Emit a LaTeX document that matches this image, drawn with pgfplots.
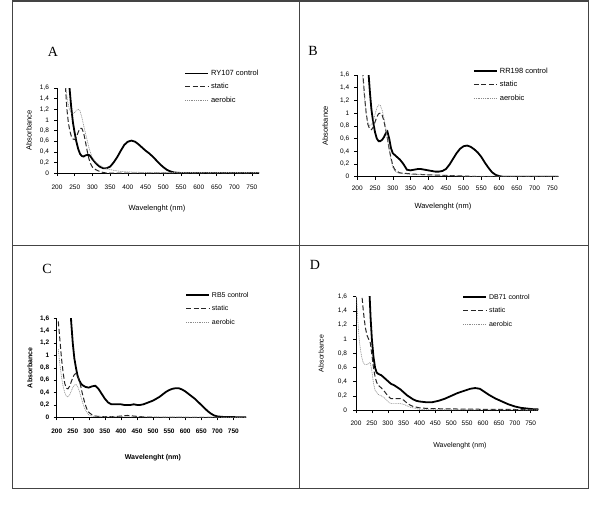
\documentclass[border=0pt]{standalone}
\usepackage{fontspec}
\setmainfont{Liberation Sans}
\newfontfamily\serifletter{Liberation Serif}
\usepackage{pgfplots}
\pgfplotsset{compat=1.18}

\definecolor{framegray}{HTML}{444444}
\definecolor{aerogray}{HTML}{8C8C8C}

\pgfplotsset{
  panel/.style={
    scale only axis, anchor=south west,
    axis x line*=bottom, axis y line*=left,
    xmin=200, ymin=0, ymax=1.6,
    xtick={200,250,300,350,400,450,500,550,600,650,700,750},
    ytick={0,0.2,0.4,0.6,0.8,1,1.2,1.4,1.6},
    tick align=outside, major tick length=3pt,
    tick style={black, line width=0.5pt},
    axis line style={black, line width=0.6pt},
    every tick label/.append style={font=\fontsize{6.5}{8}\selectfont},
    /pgf/number format/assume math mode=true,
    yticklabel style={/pgf/number format/use comma, /pgf/number format/fixed, /pgf/number format/precision=1},
    xticklabel style={/pgf/number format/1000 sep={}},
    ylabel={Absorbance}, xlabel={Wavelenght (nm)},
    label style={font=\fontsize{7.5}{9}\selectfont},
    legend cell align=left,
    legend style={draw=none, fill=none, anchor=north west, inner sep=0pt,
      font=\fontsize{7.5}{9}\selectfont, row sep=6.5pt, column sep=2pt,
      nodes={inner sep=0pt, text height=5.5pt, text depth=1.5pt}},
    legend image code/.code={\draw[##1] (0pt,0pt) -- (23pt,0pt);},
  },
  ctrl/.style={black, line width=1.8pt, no marks},
  stat/.style={black!85, line width=1pt, dash pattern=on 5pt off 2.5pt, no marks},
  aero/.style={aerogray, line width=0.6pt, dash pattern=on 1pt off 0.8pt, no marks},
}

\begin{document}
\begin{tikzpicture}
\useasboundingbox (0pt,0pt) rectangle (600pt,-508pt);

% frame of the four panels
\draw[framegray, line width=1.2pt] (12.5pt,-1pt) rectangle (588.5pt,-488.5pt);
\draw[framegray, line width=1.2pt] (299.5pt,-1pt) -- (299.5pt,-488.5pt);
\draw[framegray, line width=1.2pt] (12.5pt,-245.7pt) -- (588.5pt,-245.7pt);

% panel letters
\node[font=\serifletter\fontsize{14}{14}\selectfont] at (53pt,-52pt) {A};
\node[font=\serifletter\fontsize{14}{14}\selectfont] at (313pt,-51pt) {B};
\node[font=\serifletter\fontsize{14}{14}\selectfont] at (47pt,-269pt) {C};
\node[font=\serifletter\fontsize{14}{14}\selectfont] at (315pt,-265pt) {D};

% ---------------- A ----------------
\begin{axis}[panel, at={(57pt,-173pt)}, width=202pt, height=85pt, xmax=770,
  xticklabel style={yshift=-5pt}, yticklabel style={xshift=-1.5pt},
  ylabel style={at={(axis description cs:-0.139,0.5)}, anchor=center},
  xlabel style={at={(axis description cs:0.495,-0.42)}, anchor=center},
  legend style={at={(axis description cs:0.629,1.215)}},
]
\addplot[ctrl] coordinates {
 (232,1.9) (236,1.55) (240,1.25) (245,0.95) (250,0.75) (255,0.58) (260,0.45)
 (265,0.36) (270,0.32) (275,0.31) (280,0.33) (285,0.34) (290,0.34) (295,0.31)
 (300,0.26) (310,0.18) (320,0.12) (330,0.09) (340,0.09) (350,0.12) (360,0.2)
 (370,0.3) (380,0.42) (390,0.53) (400,0.59) (410,0.61) (420,0.59) (430,0.54)
 (440,0.48) (450,0.42) (460,0.37) (470,0.31) (480,0.24) (490,0.17) (500,0.11)
 (510,0.06) (520,0.03) (530,0.01) (540,0.005) (550,0) (770,0)};
\addplot[stat] coordinates {
 (220,1.9) (224,1.6) (228,1.2) (232,0.95) (236,0.8) (240,0.7) (245,0.64)
 (250,0.63) (255,0.68) (260,0.77) (265,0.84) (270,0.84) (275,0.76) (280,0.6)
 (285,0.42) (290,0.27) (295,0.17) (300,0.11) (310,0.06) (320,0.03) (330,0.01)
 (340,0) (770,0)};
\addplot[aero] coordinates {
 (221,1.9) (225,1.6) (230,1.35) (235,1.2) (240,1.13) (245,1.12) (250,1.14)
 (255,1.18) (260,1.2) (265,1.17) (270,1.05) (275,0.9) (280,0.76) (285,0.62)
 (290,0.48) (295,0.37) (300,0.29) (310,0.2) (320,0.15) (330,0.11) (340,0.08)
 (360,0.05) (380,0.03) (400,0.02) (450,0.01) (770,0.01)};
\legend{RY107 control, static, aerobic}
\end{axis}

% ---------------- B ----------------
\begin{axis}[panel, at={(357.3pt,-176.7pt)}, width=201pt, height=101.7pt, xmax=767,
  xticklabel style={yshift=-3pt}, yticklabel style={xshift=-1.5pt},
  ylabel style={at={(axis description cs:-0.16,0.5)}, anchor=center},
  xlabel style={at={(axis description cs:0.426,-0.298)}, anchor=center},
  legend style={at={(axis description cs:0.575,1.075)}},
]
\addplot[ctrl] coordinates {
 (228,1.9) (232,1.6) (236,1.3) (240,1.05) (245,0.85) (250,0.7) (255,0.6)
 (260,0.56) (265,0.56) (270,0.58) (275,0.62) (280,0.68) (285,0.71) (290,0.6)
 (295,0.45) (300,0.37) (310,0.32) (320,0.27) (330,0.2) (340,0.11) (350,0.1)
 (360,0.11) (370,0.12) (380,0.12) (390,0.11) (400,0.1) (410,0.09) (420,0.08)
 (430,0.08) (440,0.09) (450,0.12) (460,0.19) (470,0.28) (480,0.37) (490,0.44)
 (500,0.48) (510,0.49) (520,0.47) (530,0.43) (540,0.38) (550,0.31) (560,0.22)
 (570,0.14) (580,0.07) (590,0.03) (600,0.01) (610,0) (767,0)};
\addplot[stat] coordinates {
 (213,1.9) (216,1.6) (220,1.3) (225,1.0) (230,0.82) (235,0.75) (240,0.74)
 (245,0.78) (250,0.86) (255,0.94) (260,0.99) (265,1.0) (270,0.97) (275,0.88)
 (280,0.74) (285,0.6) (290,0.43) (295,0.3) (300,0.18) (305,0.12) (310,0.09)
 (320,0.06) (340,0.05) (360,0.04) (400,0.03) (450,0.02) (500,0.01) (550,0) (767,0)};
\addplot[aero] coordinates {
 (212,1.9) (215,1.6) (220,1.25) (225,0.98) (230,0.85) (235,0.8) (240,0.82)
 (245,0.88) (250,0.98) (255,1.08) (260,1.13) (265,1.12) (270,1.05) (275,0.93)
 (280,0.78) (285,0.6) (290,0.42) (295,0.26) (300,0.15) (305,0.1) (310,0.07)
 (320,0.05) (350,0.04) (400,0.03) (450,0.02) (500,0.01) (767,0.01)};
\legend{RR198 control, static, aerobic}
\end{axis}

% ---------------- C ----------------
\begin{axis}[panel, at={(56.7pt,-417.3pt)}, width=189.5pt, height=99pt, xmax=790,
  every tick label/.append style={font=\bfseries\fontsize{6.5}{8}\selectfont},
  label style={font=\bfseries\fontsize{7}{9}\selectfont},
  legend style={font=\fontsize{7}{9}\selectfont},
  xticklabel style={yshift=-5pt}, yticklabel style={xshift=-1pt},
  ylabel style={at={(axis description cs:-0.141,0.5)}, anchor=center},
  xlabel style={at={(axis description cs:0.508,-0.41)}, anchor=center},
  legend style={at={(axis description cs:0.677,1.27)}},
]
\addplot[ctrl] coordinates {
 (242,1.9) (245,1.55) (250,1.2) (255,0.95) (260,0.8) (265,0.67) (270,0.6)
 (275,0.55) (280,0.52) (290,0.49) (300,0.48) (310,0.5) (320,0.51) (330,0.46)
 (340,0.38) (350,0.3) (360,0.24) (370,0.21) (380,0.21) (390,0.21) (400,0.21)
 (410,0.2) (420,0.2) (430,0.2) (440,0.21) (450,0.2) (460,0.2) (470,0.21)
 (480,0.23) (490,0.25) (500,0.27) (510,0.3) (520,0.33) (530,0.37) (540,0.41)
 (550,0.44) (560,0.46) (570,0.47) (580,0.47) (590,0.45) (600,0.42) (610,0.38)
 (620,0.34) (630,0.3) (640,0.25) (650,0.2) (660,0.15) (670,0.1) (680,0.06)
 (690,0.03) (700,0.015) (710,0.01) (720,0.005) (790,0)};
\addplot[stat] coordinates {
 (205,1.55) (210,1.25) (215,0.95) (220,0.72) (225,0.55) (230,0.47) (235,0.46)
 (240,0.5) (245,0.57) (250,0.64) (255,0.69) (260,0.71) (265,0.68) (270,0.6)
 (275,0.5) (280,0.38) (285,0.28) (290,0.19) (295,0.12) (300,0.08) (310,0.04)
 (320,0.02) (340,0.01) (380,0.01) (400,0.02) (420,0.03) (440,0.02) (460,0.01)
 (500,0) (790,0)};
\addplot[aero] coordinates {
 (205,1.1) (210,0.85) (215,0.65) (220,0.5) (225,0.4) (230,0.34) (235,0.33)
 (240,0.36) (245,0.42) (250,0.48) (255,0.52) (260,0.53) (265,0.5) (270,0.43)
 (275,0.34) (280,0.25) (285,0.17) (290,0.11) (295,0.07) (300,0.04) (310,0.02)
 (320,0.01) (790,0)};
\legend{RB5 control, static, aerobic}
\end{axis}

% ---------------- D ----------------
\begin{axis}[panel, at={(356pt,-410pt)}, width=182.3pt, height=113.3pt, xmax=774,
  label style={font=\fontsize{7}{9}\selectfont},
  legend style={font=\fontsize{7}{9}\selectfont},
  xticklabel style={yshift=-4pt}, yticklabel style={xshift=-2.5pt},
  ylabel style={at={(axis description cs:-0.192,0.5)}, anchor=center},
  xlabel style={at={(axis description cs:0.57,-0.318)}, anchor=center},
  legend style={at={(axis description cs:0.582,1.03)}},
]
\addplot[ctrl] coordinates {
 (240,1.9) (243,1.6) (246,1.3) (250,1.0) (255,0.75) (260,0.6) (265,0.53)
 (270,0.51) (280,0.49) (290,0.45) (300,0.41) (310,0.37) (320,0.35) (330,0.32)
 (340,0.29) (350,0.25) (360,0.21) (370,0.18) (380,0.15) (390,0.13) (400,0.12)
 (420,0.11) (440,0.11) (460,0.13) (480,0.16) (500,0.2) (520,0.24) (540,0.27)
 (560,0.3) (575,0.31) (590,0.3) (600,0.27) (620,0.21) (640,0.16) (660,0.12)
 (680,0.08) (700,0.05) (720,0.03) (740,0.02) (760,0.01) (774,0.01)};
\addplot[stat] coordinates {
 (216,1.9) (219,1.6) (222,1.45) (226,1.28) (230,1.15) (235,1.05) (240,1.0)
 (245,0.95) (250,0.78) (255,0.6) (260,0.47) (265,0.39) (270,0.35) (280,0.31)
 (290,0.26) (300,0.2) (310,0.16) (320,0.16) (330,0.16) (340,0.16) (350,0.14)
 (360,0.1) (370,0.07) (380,0.05) (400,0.03) (430,0.02) (500,0.015) (600,0.01)
 (774,0.005)};
\addplot[aero] coordinates {
 (201,1.7) (203,1.5) (206,1.25) (210,1.0) (214,0.85) (218,0.75) (222,0.68)
 (228,0.64) (235,0.64) (240,0.66) (245,0.67) (250,0.55) (255,0.38) (260,0.28)
 (270,0.22) (280,0.2) (290,0.17) (300,0.12) (310,0.09) (320,0.09) (330,0.09)
 (340,0.09) (350,0.08) (360,0.06) (370,0.04) (380,0.03) (400,0.01) (420,0.005)
 (774,0)};
\legend{DB71 control, static, aerobic}
\end{axis}
\end{tikzpicture}
\end{document}
